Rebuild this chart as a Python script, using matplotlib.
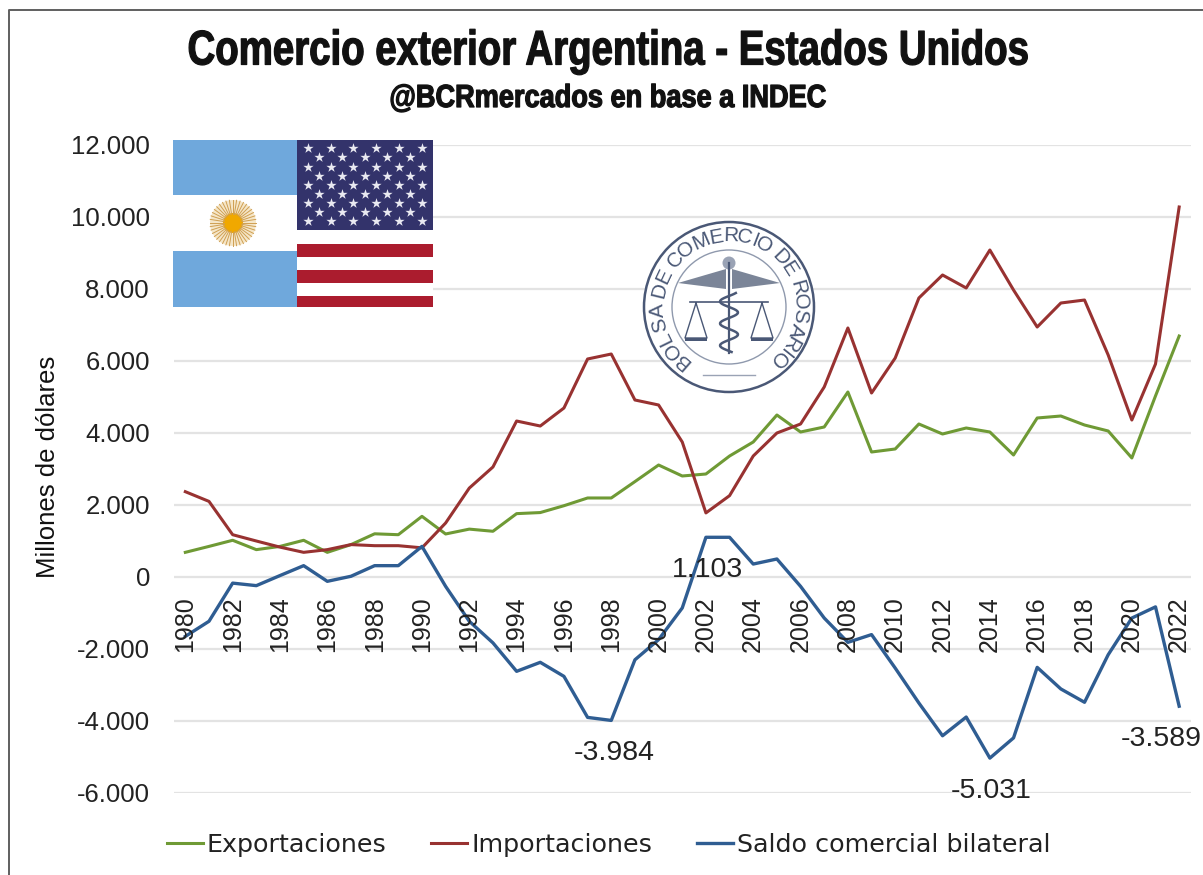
import numpy as np
import matplotlib
matplotlib.use("Agg")
import matplotlib.pyplot as plt
from matplotlib.patches import Rectangle, Circle
from matplotlib.patheffects import AbstractPathEffect
from matplotlib.transforms import Affine2D

# ── data (millones de dolares) ───────────────────────────────────────────────

years = list(range(1980, 2023))
exportaciones = [685, 850, 1020, 760, 850, 1020, 685, 900, 1200, 1175,
                 1685, 1195, 1330, 1270, 1760, 1790, 1980, 2195, 2195, 2650,
                 3111, 2806, 2861, 3361, 3750, 4500, 4028, 4167, 5139, 3472,
                 3556, 4250, 3972, 4139, 4028, 3389, 4417, 4472, 4222, 4056,
                 3306, 5030, 6694]
importaciones = [2370, 2100, 1175, 1000, 830, 685, 760, 900, 870, 870,
                 810, 1500, 2470, 3056, 4333, 4194, 4694, 6056, 6194, 4917,
                 4778, 3750, 1780, 2260, 3361, 4000, 4250, 5278, 6917, 5111,
                 6083, 7750, 8389, 8028, 9083, 7972, 6944, 7611, 7694, 6167,
                 4361, 5917, 10278]
saldo = [-1650, -1230, -170, -240, 40, 315, -120, 20, 315, 315,
         850, -260, -1230, -1830, -2620, -2370, -2760, -3900, -3984, -2300,
         -1740, -860, 1103, 1103, 360, 500, -260, -1140, -1815, -1600,
         -2530, -3500, -4410, -3890, -5031, -4470, -2510, -3110, -3480, -2160,
         -1140, -830, -3589]
yticks = [-6000, -4000, -2000, 0, 2000, 4000, 6000, 8000, 10000, 12000]
ytick_labels = ["-6.000", "-4.000", "-2.000", "0", "2.000", "4.000",
                "6.000", "8.000", "10.000", "12.000"]
callout_years = [2002, 1998, 2014, 2022]
callout_values = [1103, -3984, -5031, -3589]
callout_labels = ["1.103", "-3.984", "-5.031", "-3.589"]
seal_text = "BOLSA DE COMERCIO DE ROSARIO"

W, H = 1203, 875
GREEN, RED, BLUE = "#6f9a35", "#983231", "#2f5d92"
FONT = ["Liberation Sans", "DejaVu Sans"]
PX = 0.72  # points per pixel at dpi 100


class Squeeze(AbstractPathEffect):
    """Narrow a text around a fixed pixel column (no condensed font installed)."""

    def __init__(self, cx, sx):
        super().__init__()
        self.cx, self.sx = cx, sx

    def draw_path(self, renderer, gc, tpath, affine, rgbFace=None):
        squeeze = Affine2D().translate(-self.cx, 0).scale(self.sx, 1).translate(self.cx, 0)
        gc.set_linewidth(0.9)
        gc.set_foreground(rgbFace)
        renderer.draw_path(gc, tpath, affine + squeeze, rgbFace)


fig = plt.figure(figsize=(W / 100, H / 100), dpi=100)
plt.rcParams["font.family"] = FONT

# pixel positions of the plot area
left, right, top, bottom = 173.5, 1191, 145, 793
ax = fig.add_axes([left / W, 1 - bottom / H, (right - left) / W, (bottom - top) / H])

ax.plot(years, exportaciones, color=GREEN, lw=2.2, label="Exportaciones", zorder=3)
ax.plot(years, importaciones, color=RED, lw=2.2, label="Importaciones", zorder=3)
ax.plot(years, saldo, color=BLUE, lw=2.4, label="Saldo comercial bilateral", zorder=3)

ax.set_xlim(1979.5, 2022.5)
ax.set_ylim(-6000, 12000)
ax.set_yticks(yticks)
ax.set_yticklabels(ytick_labels, fontsize=18.5, color="#222222")
ax.set_ylabel("Millones de dólares", fontsize=18.5, color="#111111")
ax.yaxis.set_label_coords(-0.1115, 0.503)
ax.grid(axis="y", color="#e3e3e3", lw=1.6)
ax.set_axisbelow(True)
ax.tick_params(length=0, pad=17)
for s in ax.spines.values():
    s.set_visible(False)

# year labels hang under the zero line, rotated, in between the curves
ax.set_xticks([])
for y in years[::2]:
    ax.text(y, -540, str(y), rotation=90, ha="center", va="top",
            fontsize=18, color="#222222", zorder=4)

for x, y, txt, dx in zip(callout_years, callout_values, callout_labels, [2, 3, 1, -18]):
    ax.annotate(txt, (x, y), xytext=(dx * PX, -33 * PX), textcoords="offset points",
                ha="center", va="center", fontsize=20.5, color="#222222", zorder=5,
                annotation_clip=False)

fig.legend(*ax.get_legend_handles_labels(), loc="center left",
           bbox_to_anchor=(167 / W, 1 - 845 / H), ncol=3, frameon=False,
           prop={"family": "DejaVu Sans", "size": 18.3}, labelcolor="#222222",
           handlelength=1.41, columnspacing=1.77, handletextpad=0.15,
           borderpad=0, borderaxespad=0)

# titles
title = fig.text(608 / W, 1 - 52 / H, "Comercio exterior Argentina - Estados Unidos", ha="center",
                 va="center", weight="bold", fontsize=35, color="#111111")
title.set_path_effects([Squeeze(608, 0.79)])
sub = fig.text(608 / W, 1 - 99 / H, "@BCRmercados en base a INDEC", ha="center", va="center",
               weight="bold", fontsize=23, color="#111111")
sub.set_path_effects([Squeeze(608, 0.85)])

# overlay in pixel coordinates for the flags, the seal and the frame
ov = fig.add_axes([0, 0, 1, 1], zorder=10)
ov.set_xlim(0, W)
ov.set_ylim(H, 0)
ov.axis("off")
ov.patch.set_alpha(0)

# Argentine flag
ov.add_patch(Rectangle((173, 140), 124, 167, color="white", lw=0))
ov.add_patch(Rectangle((173, 140), 124, 55, color="#6fa8dc", lw=0))
ov.add_patch(Rectangle((173, 251), 124, 56, color="#6fa8dc", lw=0))
ov.add_patch(Circle((233, 223), 23, color="#f5e6c8", lw=0))
for a in np.arange(0, 2 * np.pi, np.pi / 20):
    ov.plot([233 + 9 * np.cos(a), 233 + 23 * np.cos(a)],
            [223 + 9 * np.sin(a), 223 + 23 * np.sin(a)], color="#cf9f52", lw=0.7)
ov.add_patch(Circle((233, 223), 10, color="#f0a800", lw=0))

# US flag
ov.add_patch(Rectangle((297, 140), 136, 167, color="white", lw=0))
ov.add_patch(Rectangle((297, 140), 136, 90, color="#33336b", lw=0))
for y0, y1 in [(244, 257), (270, 283), (296, 307)]:
    ov.add_patch(Rectangle((297, y0), 136, y1 - y0, color="#ab1c2e", lw=0))
star_x, star_y = [], []
for row in range(5):
    for col in range(6):
        star_x.append(307.7 + col * 22.8)
        star_y.append(148.3 + row * 18.25)
for row in range(4):
    for col in range(5):
        star_x.append(319 + col * 22.8)
        star_y.append(157.4 + row * 18.25)
ov.scatter(star_x, star_y, marker="*", s=60, color="#e9e9f1", linewidths=0)

# seal
cx, cy, sc = 729, 307, "#4a5876"
ov.add_patch(Circle((cx, cy), 85, fc="white", ec=sc, lw=1.8))
ov.add_patch(Circle((cx, cy), 57, fc="none", ec="#8f99ad", lw=1))
chars = list(seal_text)
widths = np.array([0.45 if c in " I" else 1.3 if c == "M" else 1.0 for c in chars])
centers = np.cumsum(widths) - widths / 2
angles = -139 + (centers - centers[0]) / (centers[-1] - centers[0]) * 276
for ch, a in zip(chars, angles):
    r = np.deg2rad(a)
    ov.text(cx + 71 * np.sin(r), cy - 71 * np.cos(r), ch, rotation=-a, rotation_mode="anchor",
            ha="center", va="center", fontsize=15, color=sc)
ov.plot([cx, cx], [cy - 44, cy + 46], color=sc, lw=1.6)
ov.fill([cx - 51, cx - 3, cx - 3], [cy - 24, cy - 38, cy - 18], color="#7b8598", lw=0)
ov.fill([cx + 51, cx + 3, cx + 3], [cy - 24, cy - 38, cy - 18], color="#7b8598", lw=0)
ov.add_patch(Circle((cx, cy - 44), 6.5, color="#9aa3b5", lw=0))
ov.plot([cx - 39, cx + 39], [cy - 5, cy - 5], color=sc, lw=1.2)
for sx in (-33, 33):
    ov.plot([cx + sx, cx + sx - 11, cx + sx + 11, cx + sx],
            [cy - 4, cy + 31, cy + 31, cy - 4], color=sc, lw=1)
    ov.add_patch(Rectangle((cx + sx - 11, cy + 31), 22, 3, color=sc, lw=0))
snake = np.arange(-14, 46, 1.0)
ov.plot(cx + 9 * np.sin(snake / 3.5), cy + snake, color=sc, lw=1.8)
ov.plot([cx - 26, cx + 26], [cy + 68, cy + 68], color="#9aa3b5", lw=1)

# outer frame of the screenshot
ov.plot([8.5, 8.5, W], [H, 9.5, 9.5], color="#5f5f5f", lw=1.4)

fig.savefig("out.png", dpi=100)
